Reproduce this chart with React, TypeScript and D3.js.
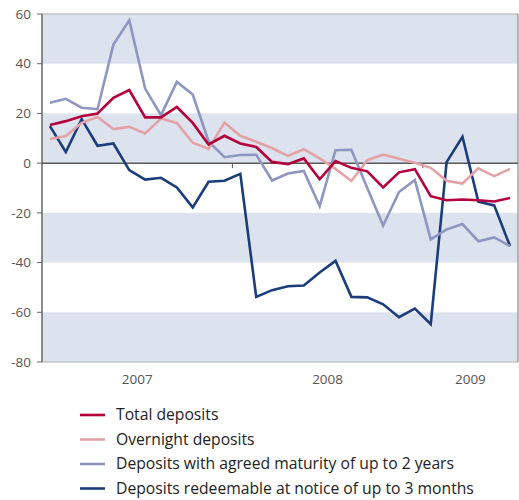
import React from "react";
import * as d3 from "d3";

const months: string[] = [
  "2007-01","2007-02","2007-03","2007-04","2007-05","2007-06","2007-07","2007-08","2007-09","2007-10","2007-11","2007-12",
  "2008-01","2008-02","2008-03","2008-04","2008-05","2008-06","2008-07","2008-08","2008-09","2008-10","2008-11","2008-12",
  "2009-01","2009-02","2009-03","2009-04","2009-05","2009-06",
];

const totalDeposits: number[] = [
  15.3, 16.9, 18.9, 20, 26.3, 29.4, 18.4, 18.4, 22.6, 16.2, 7.5, 11,
  7.9, 6.5, 0.5, -0.4, 1.9, -6.5, 0.8, -1.9, -3.3, -9.8, -3.7, -2.4,
  -13.3, -14.9, -14.6, -14.9, -15.4, -14,
];
const overnightDeposits: number[] = [
  9.7, 10.9, 16.2, 18.6, 13.7, 14.6, 11.9, 18, 16.2, 8.2, 5.7, 16.3,
  11, 8.6, 6, 2.9, 5.6, 1.9, -2.3, -7.2, 1.2, 3.4, 1.8, 0.2,
  -1.9, -7.1, -8.2, -2.1, -5.2, -2.3,
];
const agreedMaturity: number[] = [
  24.3, 25.9, 22.3, 21.7, 47.7, 57.5, 30, 19.3, 32.7, 27.6, 8.7, 2.4,
  3.3, 3.4, -7, -4.2, -3.1, -17.3, 5.2, 5.4, -10, -25.1, -11.6, -6.8,
  -30.7, -26.7, -24.5, -31.4, -29.9, -33.4,
];
const redeemableNotice: number[] = [
  14.9, 4.5, 17.7, 7, 7.9, -2.8, -6.6, -5.9, -9.8, -17.8, -7.5, -7.1,
  -4.3, -53.8, -51.1, -49.5, -49.2, -44, -39.3, -53.8, -54, -56.8, -62, -58.5,
  -64.8, 0.4, 10.6, -15.5, -17, -33.4,
];

const seriesNames: string[] = [
  "Total deposits",
  "Overnight deposits",
  "Deposits with agreed maturity of up to 2 years",
  "Deposits redeemable at notice of up to 3 months",
];
const seriesColors: string[] = ["#b4003c", "#e3a2a6", "#8e96c2", "#1b3d7c"];
const yTicks: number[] = [60, 40, 20, 0, -20, -40, -60, -80];
const yearLabels: string[] = ["2007", "2008", "2009"];

export default function App() {
  const width = 519;
  const height = 500;
  const left = 42;
  const right = 518;
  const top = 14;
  const bottom = 362;

  const x = d3.scaleBand<string>().domain(months).range([left, right]).padding(0);
  const y = d3.scaleLinear().domain([-80, 60]).range([bottom, top]);
  const cx = (m: string) => (x(m) as number) + x.bandwidth() / 2;

  const allSeries = [redeemableNotice, agreedMaturity, overnightDeposits, totalDeposits];
  const allColors = [seriesColors[3], seriesColors[2], seriesColors[1], seriesColors[0]];

  const line = d3
    .line<number>()
    .x((_, i) => cx(months[i]))
    .y((v) => y(v));

  const stripes: [number, number][] = [
    [60, 40],
    [20, 0],
    [-20, -40],
    [-60, -80],
  ];

  const yearStart = (yr: string) => x(yr + "-01") as number;
  const yearCenter = (yr: string) => {
    const ms = months.filter((m) => m.startsWith(yr));
    const a = x(ms[0]) as number;
    const b = (x(ms[ms.length - 1]) as number) + x.bandwidth();
    return (a + b) / 2;
  };

  const font = "'Open Sans', 'DejaVu Sans', sans-serif";

  return (
    <svg width={width} height={height} style={{ position: "absolute", left: 0, top: 0, fontFamily: font }}>
      {stripes.map(([a, b], i) => (
        <rect key={i} x={left} y={y(a)} width={right - left} height={y(b) - y(a)} fill="#dde3ee" />
      ))}
      {/* frame */}
      <line x1={left} x2={right} y1={top} y2={top} stroke="#c4c4c4" strokeWidth={1.5} />
      <line x1={left} x2={right} y1={bottom} y2={bottom} stroke="#b0b0b0" strokeWidth={1} />
      <line x1={right} x2={right} y1={top} y2={bottom} stroke="#777" strokeWidth={1} />
      <line x1={left} x2={left} y1={top} y2={bottom} stroke="#666" strokeWidth={1.5} />
      {yTicks.map((t) => (
        <g key={t}>
          <line x1={left - 5} x2={left} y1={y(t)} y2={y(t)} stroke="#666" strokeWidth={1} />
          <text x={31} y={y(t)} dy="0.35em" textAnchor="end" fontSize={13.5} fill="#555">
            {t}
          </text>
        </g>
      ))}
      {/* zero line */}
      <line x1={left} x2={right} y1={y(0)} y2={y(0)} stroke="#5a5a5a" strokeWidth={1.5} />
      {["2008", "2009"].map((yr) => (
        <line key={yr} x1={yearStart(yr)} x2={yearStart(yr)} y1={y(0)} y2={y(0) + 5} stroke="#555" strokeWidth={1} />
      ))}
      {yearLabels.map((yr) => (
        <text key={yr} x={yearCenter(yr)} y={384} textAnchor="middle" fontSize={13.5} fill="#555">
          {yr}
        </text>
      ))}
      {allSeries.map((s, i) => (
        <path key={i} d={line(s) || ""} fill="none" stroke={allColors[i]} strokeWidth={2.6} strokeLinejoin="miter" />
      ))}
      {seriesNames.map((name, i) => {
        const ly = 415 + i * 24.5;
        return (
          <g key={name}>
            <line x1={80} x2={105} y1={ly} y2={ly} stroke={seriesColors[i]} strokeWidth={2.6} />
            <text x={116} y={ly} dy="0.35em" fontSize={15.7} fill="#222">
              {name}
            </text>
          </g>
        );
      })}
    </svg>
  );
}
